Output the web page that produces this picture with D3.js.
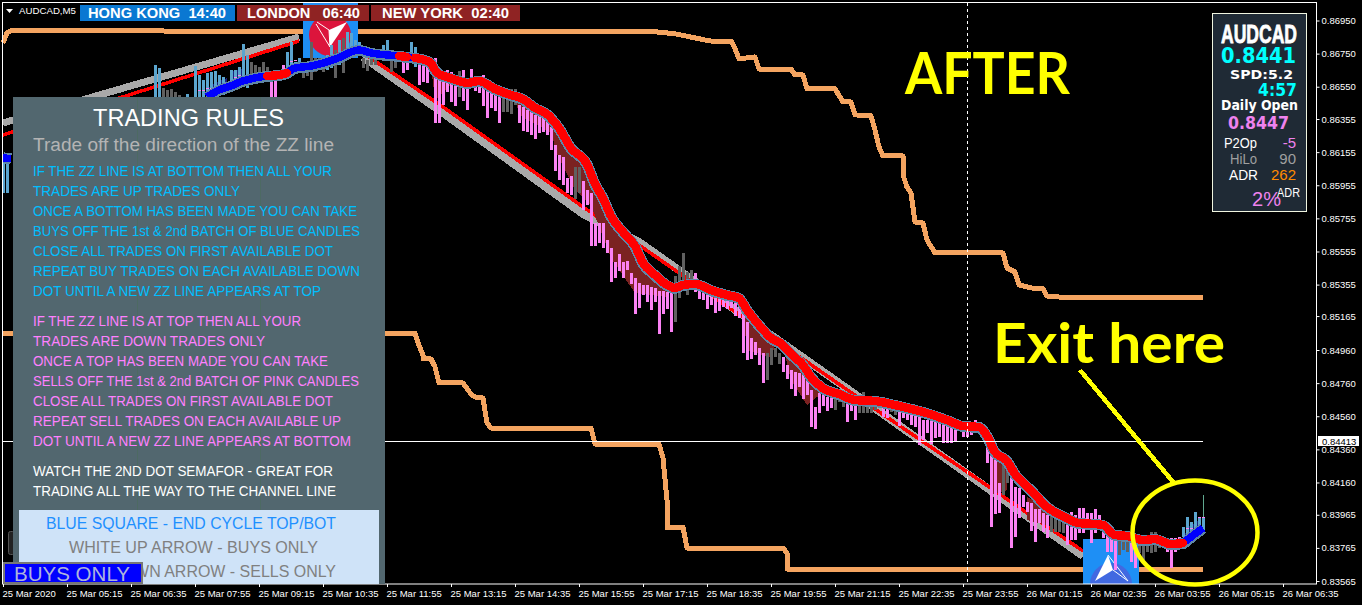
<!DOCTYPE html>
<html><head><meta charset="utf-8">
<script src="https://cdn.jsdelivr.net/npm/d3@7"></script>
<style>html,body{margin:0;background:#000;overflow:hidden}svg{display:block}text{white-space:pre}</style>
</head><body><svg id="c" width="1362" height="605"></svg>
<script>
// Prices are in points (1/100000). Time is the M5 bar number.
const priceTicks=[86950,86750,86550,86355,86155,85955,85755,85555,85355,85165,84960,84760,84560,84360,84160,83965,83765,83565];
const timeLabels=["25 Mar 2020","25 Mar 05:15","25 Mar 06:35","25 Mar 07:55","25 Mar 09:15","25 Mar 10:35","25 Mar 11:55","25 Mar 13:15","25 Mar 14:35","25 Mar 15:55","25 Mar 17:15","25 Mar 18:35","25 Mar 19:55","25 Mar 21:15","25 Mar 22:35","25 Mar 23:55","26 Mar 01:15","26 Mar 02:35","26 Mar 03:55","26 Mar 05:15","26 Mar 06:35"];
const lastPrice=84413, crossBar=241, firstBar=38;
const leftHighs=[86138,86108], leftLows=[85908,85908];
const barKindRuns=[["b",2],["g",5],["b",17],["g",5],["p",4],["b",4],["g",6],["b",2],["g",1],["b",1],["g",1],["b",4],["g",4],["b",3],["g",2],["x",1],["p",2],["b",2],["p",10],["g",1],["p",10],["g",4],["p",14],["g",2],["p",23],["g",5],["p",18],["g",4],["p",13],["g",3],["p",3],["g",6],["p",2],["g",2],["p",26],["g",2],["p",10],["g",4],["p",13],["g",3],["p",2],["g",7],["p",4],["b",6]];
const barHighs=[86681,86663,86542,86530,86536,86518,86500,86488,86506,86488,86675,86621,86591,86633,86639,86645,86621,86609,86579,86651,86651,86669,86808,86742,86700,86681,86669,86700,86669,86633,86639,86639,86681,86760,86820,86700,86724,86681,86700,86820,86724,86724,86712,86742,86802,86772,86832,86844,86881,86875,86832,86820,86724,86712,86724,86712,86772,86802,86832,86712,86712,null,86712,86712,86820,86790,86693,86681,86669,86712,86724,86633,86579,86651,86639,86591,86645,86651,86579,86657,86573,86609,86621,86549,86518,86512,86500,86530,86530,86536,86536,86440,86428,86410,86452,86379,86379,86367,86349,86307,86198,86138,86126,85999,86011,86065,86065,85981,85926,85908,85727,85727,85727,85624,85576,85492,85540,85492,85498,85425,85395,85365,85353,85353,85341,85335,85316,85316,85310,85304,85407,85467,85546,85431,85443,85425,85335,85322,85322,85292,85292,85335,85310,85292,85262,85250,85232,85184,85129,85033,85008,84972,84942,84942,84972,84972,84942,84918,84869,84839,84827,84821,84809,84779,84718,84616,84700,84688,84676,84670,84670,84676,84670,84646,84640,84640,84640,84706,84640,84640,84640,84628,84622,84622,84616,84610,84586,84586,84573,84580,84580,84555,84537,84537,84537,84525,84519,84507,84507,84507,84543,84507,84525,84525,84519,84537,84507,84489,84404,84356,84296,84157,84265,84235,84187,84133,84126,84084,84042,84036,84000,84000,83976,83963,84030,83994,83982,83976,83976,83982,83963,84006,84006,83976,83976,84000,83963,83933,83891,83843,83825,83825,83825,83825,83794,83794,83843,83843,83843,83861,83861,83831,83831,83812,83825,83825,83831,83891,83951,83921,83982,83951,83951];
const barLows=[86440,86440,86440,86440,86440,86440,86440,86440,86440,86440,86440,86440,86488,86488,86488,86500,86518,86500,86518,86542,86542,86542,86561,86542,86603,86591,86621,86603,86621,86440,86440,86603,86639,86639,86639,86639,86651,86603,86615,86591,86639,86651,86639,86651,86663,86603,86681,86633,86760,86772,86754,86772,86663,86645,86681,86681,86712,86712,86712,86639,86663,null,86633,86651,86693,86669,86561,86579,86573,86639,86331,86331,86440,86518,86458,86434,86488,86464,86410,86573,86524,86512,86434,86361,86422,86404,86331,86398,86398,86385,86440,86331,86283,86277,86259,86234,86271,86277,86259,86168,86041,85987,85957,85908,85896,85872,85908,85806,85836,85588,85588,85606,85576,85546,85371,85395,85437,85395,85443,85359,85177,85214,85292,85250,85202,85250,85057,85177,85208,85069,85129,85274,85335,85292,85341,85310,85268,85262,85208,85232,85184,85196,85220,85208,85214,85165,85153,84942,84900,84906,84930,84869,84761,84779,84869,84918,84875,84827,84785,84724,84682,84737,84664,84688,84495,84483,84580,84622,84592,84610,84598,84646,84616,84525,84592,84537,84580,84580,84580,84580,84598,84616,84555,84549,84586,84567,84501,84549,84537,84507,84495,84386,84416,84459,84392,84428,84434,84398,84398,84398,84404,84477,84434,84434,84447,84459,84489,84428,84278,83891,83969,83975,84084,84157,83764,83831,83945,84012,83982,83867,83800,83915,83861,83825,83861,83861,83861,83855,83782,83812,83812,83855,83855,83873,83794,83855,83873,83825,83740,83740,83631,83722,83752,83740,83680,83643,83734,83692,83740,83734,83740,83764,83764,83740,83643,83740,83770,83831,83843,83855,83873,83873,83855];
const lastWick=[84084,83951];
const bodyTicks=[[49,86530],[50,86530],[51,86542],[52,86542],[58,86609],[59,86621],[72,86706],[73,86712],[296,83885],[297,83885],[299,83951],[300,83951]];
const ribbonBars=[0,2,51,54,57,60,63,66,69,71,73,77,81,85,87,89,92,96,99,101,103,106,107,108,109,111,114,116,119,123,127,130,133,136,139,142,146,148,150,152,155,158,160,163,166,168,170,173,177,181,184,186,189,192,195,197,200,202,205,209,213,218,224,230,236,240,244,246,248,251,253,257,261,265,269,273,275,278,281,285,288,292,295,297,300];
const ribbonPrices=[86121,86115,86488,86530,86555,86585,86603,86615,86621,86633,86663,86675,86700,86736,86760,86772,86754,86742,86736,86730,86724,86706,86693,86651,86627,86609,86585,86573,86585,86536,86500,86476,86422,86385,86301,86180,86083,85963,85878,85769,85673,85588,85486,85413,85353,85335,85353,85359,85322,85292,85274,85202,85111,85033,84990,84936,84869,84797,84730,84694,84658,84652,84622,84586,84537,84501,84495,84441,84344,84290,84211,84114,84012,83957,83915,83909,83903,83843,83837,83812,83818,83788,83794,83831,83885];
const upRuns=[[0,66],[71,99],[101,103],[295,300]];
const downRuns=[[66,71],[99,101],[103,295]];
const topZZ=[[0,86814],[1,86875],[2,86888],[163,86882],[168,86870],[176,86830],[177,86826],[182,86826],[183,86780],[184,86718],[188,86730],[189,86657],[197,86657],[198,86621],[200,86621],[201,86537],[208,86537],[210,86458],[212,86458],[213,86380],[217,86374],[218,86289],[219,86186],[220,86132],[225,86132],[225,86017],[226,85944],[227,85908],[228,85733],[230,85727],[231,85624],[233,85546],[250,85546],[251,85455],[253,85431],[254,85353],[257,85335],[260,85329],[261,85286],[264,85280],[300,85280]];
const bottomZZ=[[0,85060],[95,85060],[103,85060],[104,84990],[105,84930],[105,84906],[107,84906],[108,84858],[109,84761],[115,84761],[117,84694],[118,84676],[120,84670],[121,84519],[122,84489],[147,84489],[148,84392],[164,84392],[165,84308],[166,84054],[166,83885],[170,83891],[171,83764],[195,83764],[196,83734],[196,83637],[300,83637]];
const upGray=[[0,86331],[74,86850]], upRed=[[0,86259],[74,86826]];
const downGray=[[90,86730],[110,86392],[145,85782],[159,85612],[214,84676],[270,83716]];
const downRed=[[90,86754],[110,86428],[145,85824],[159,85594],[214,84670],[270,83746]];
const redWedges=[
 [[107,86675],[111,86603],[112,86561],[108,86470]],
 [[128,86500],[136,86379],[138,86319],[138,86259],[129,86379]],
 [[137,86307],[142,86180],[146,86083],[150,85878],[155,85673],[160,85486],[166,85353],[166,85280],[158,85304],[152,85516],[147,85836],[143,85926],[138,86168]],
 [[185,85190],[192,85033],[193,84990],[192,84912],[186,84960]],
 [[195,84978],[202,84779],[205,84706],[201,84628],[197,84779]],
 [[247,84386],[251,84284],[251,84114],[247,84084]],
 [[256,84072],[262,83994],[261,83903],[256,83933]]];
const navyWedges=[
 [[50,86494],[56,86555],[56,86603],[52,86561]],
 [[57,86579],[60,86615],[60,86663],[57,86639]],
 [[295,83812],[299,83873],[299,83933],[296,83885]]];
const sessions=["HONG KONG  14:40","LONDON   06:40","NEW YORK  02:40"];
const rulesBlue=["IF THE ZZ LINE IS AT BOTTOM THEN ALL YOUR","TRADES ARE UP TRADES ONLY","ONCE A BOTTOM HAS BEEN MADE YOU CAN TAKE","BUYS OFF THE 1st & 2nd BATCH OF BLUE CANDLES","CLOSE ALL TRADES ON FIRST AVAILABLE DOT","REPEAT BUY TRADES ON EACH AVAILABLE DOWN","DOT UNTIL A NEW ZZ LINE APPEARS AT TOP"];
const rulesPink=["IF THE ZZ LINE IS AT TOP THEN ALL YOUR","TRADES ARE DOWN TRADES ONLY","ONCE A TOP HAS BEEN MADE YOU CAN TAKE","SELLS OFF THE 1st & 2nd BATCH OF PINK CANDLES","CLOSE ALL TRADES ON FIRST AVAILABLE DOT","REPEAT SELL TRADES ON EACH AVAILABLE UP","DOT UNTIL A NEW ZZ LINE APPEARS AT BOTTOM"];
const rulesWhite=["WATCH THE 2ND DOT SEMAFOR - GREAT FOR","TRADING ALL THE WAY TO THE CHANNEL LINE"];
const legendLines=["BLUE SQUARE - END CYCLE TOP/BOT","WHITE UP ARROW - BUYS ONLY","RED DOWN ARROW - SELLS ONLY"];

const widthsBlue=[299,207,324,327,300,327,288], widthsPink=[268,232,295,326,300,308,318], widthsWhite=[300,303], widthsLegend=[290,249,264];
const barKinds=barKindRuns.flatMap(r=>Array(r[1]).fill(r[0]));
const svg=d3.select("#c");
const x=d3.scaleLinear().domain([0,320]).range([3,1283]);
const y=d3.scaleLinear().domain([86950,83565]).range([20.5,581]);
const SANS='"Liberation Sans",Arial,sans-serif', DJ='"DejaVu Sans",sans-serif';
const BAR={b:"#5ba5cf",g:"#606060",p:"#fb82f4"};
function T(str,px,py,o={}){
  const t=svg.append("text").attr("x",px).attr("y",py).text(str)
   .attr("fill",o.fill||"#fff").attr("font-family",o.font||SANS).attr("font-size",o.size||14)
   .attr("font-weight",o.weight||"normal");
  if(o.len)t.attr("textLength",o.len).attr("lengthAdjust","spacingAndGlyphs");
  if(o.anchor)t.attr("text-anchor",o.anchor);
  if(o.stroke)t.attr("stroke",o.fill||"#fff").attr("stroke-width",o.stroke);
  return t;
}
const line=d3.line().x(d=>x(d[0])).y(d=>y(d[1]));
const smooth=d3.line().x(d=>x(d[0])).y(d=>y(d[1])).curve(d3.curveMonotoneX);
const marks=svg.append("g").attr("shape-rendering","crispEdges");
function path(pts,color,w,gen=line){
  return marks.append("path").attr("d",gen(pts)).attr("fill","none").attr("stroke",color).attr("stroke-width",w)
   .attr("stroke-linejoin","round");
}
// channel
path(upGray,"#a9a9a9",7);path(upRed,"#ff0000",3.5);
path(downGray,"#a9a9a9",8);path(downRed,"#ff0000",3.5);
// ZZ lines
path(topZZ,"#f4a460",5);path(bottomZZ,"#f4a460",5);
// logos
marks.append("rect").attr("x",303).attr("y",3).attr("width",55).attr("height",55).attr("fill","#1e8ff5");
const lg=svg.append("g");
lg.append("circle").attr("cx",330).attr("cy",35).attr("r",21).attr("fill","#dc143c");
lg.append("polygon").attr("points","347,22 329,30 330,47").attr("fill","#fff");
lg.append("polyline").attr("points","317,22 329,30 330,47 316,24").attr("fill","none").attr("stroke","#fff");
const lg2=svg.append("g");
lg2.append("rect").attr("x",1083).attr("y",539).attr("width",56).attr("height",45).attr("fill","#1e8ff5");
lg2.append("path").attr("d","M1090 584 A21 21 0 1 1 1132 584 Z").attr("fill","#4169e1");
lg2.append("polygon").attr("points","1095,581 1108,555 1113,570").attr("fill","#fff");
lg2.append("polyline").attr("points","1108,555 1128,581 1113,570").attr("fill","none").attr("stroke","#fff");
// wedges
const marks2=svg.append("g").attr("shape-rendering","crispEdges");
redWedges.forEach(w=>marks2.append("polygon").attr("points",w.map(d=>x(d[0])+","+y(d[1])).join(" ")).attr("fill","#7b2222"));
navyWedges.forEach(w=>marks2.append("polygon").attr("points",w.map(d=>x(d[0])+","+y(d[1])).join(" ")).attr("fill","#1a237e"));
// bars
leftHighs.forEach((h,i)=>marks2.append("rect").attr("x",x(i)-1).attr("width",3).attr("y",y(h)).attr("height",y(leftLows[i])-y(h)).attr("fill",BAR.b));
marks2.selectAll("rect.bar").data(barHighs.map((h,i)=>({i:i+firstBar,h,l:barLows[i],k:barKinds[i]})).filter(d=>d.h!==null))
 .join("rect").attr("class","bar").attr("x",d=>x(d.i)-1).attr("width",3)
 .attr("y",d=>y(d.h)).attr("height",d=>y(d.l)-y(d.h)).attr("fill",d=>BAR[d.k]||BAR.g);
marks2.append("rect").attr("x",x(300)).attr("width",1).attr("y",y(lastWick[0])).attr("height",y(lastWick[1])-y(lastWick[0])).attr("fill","#5fa88f");
bodyTicks.forEach(d=>marks2.append("rect").attr("x",x(d[0])-1).attr("width",3).attr("y",y(d[1])).attr("height",1).attr("fill",BAR.p));
// ribbon
const ribbon=ribbonBars.map((b,i)=>[b,ribbonPrices[i]]);
const ribbonG=svg.append("g").attr("shape-rendering","crispEdges");
ribbonG.append("path").attr("d",smooth(ribbon.slice(2))).attr("fill","none").attr("stroke","#5f86a6").attr("stroke-width",11).attr("transform","translate(0,0.5)");
ribbonG.append("path").attr("d",smooth(ribbon.slice(0,2))).attr("fill","none").attr("stroke","#5f86a6").attr("stroke-width",11);
upRuns.forEach(r=>{const p=ribbon.filter(d=>d[0]>=r[0]&&d[0]<=r[1]&&!(r[0]===0&&d[0]<=2));
 ribbonG.append("path").attr("d",smooth(p)).attr("fill","none").attr("stroke","#0000ff").attr("stroke-width",7.5);});
ribbonG.append("path").attr("d",smooth(ribbon.slice(0,2))).attr("fill","none").attr("stroke","#0000ff").attr("stroke-width",7.5);
downRuns.forEach(r=>{const p=ribbon.filter(d=>d[0]>=r[0]&&d[0]<=r[1]);
 ribbonG.append("path").attr("d",smooth(p)).attr("fill","none").attr("stroke","#ff0000").attr("stroke-width",8.5).attr("stroke-linecap","round");});
// last price line, crosshair
svg.append("line").attr("x1",3).attr("x2",x(300)).attr("y1",Math.round(y(lastPrice))+.5).attr("y2",Math.round(y(lastPrice))+.5).attr("stroke","#fff");
svg.append("line").attr("x1",x(crossBar)+.5).attr("x2",x(crossBar)+.5).attr("y1",3).attr("y2",584).attr("stroke","#fff").attr("stroke-dasharray","3,3");
// frame + axes
svg.append("rect").attr("x",2.5).attr("y",2.5).attr("width",1314).attr("height",581.5).attr("fill","none").attr("stroke","#fff");
const ay=svg.append("g").attr("transform","translate(1316.5,0)").call(d3.axisRight(y).tickValues(priceTicks).tickSize(3).tickPadding(2).tickFormat(d=>(d/1e5).toFixed(5)));
const ax=svg.append("g").attr("transform","translate(0,584)").call(d3.axisBottom(x).tickValues(timeLabels.map((_,k)=>k*16)).tickSize(3).tickFormat((d,k)=>timeLabels[k]));
[ay,ax].forEach(a=>{a.select(".domain").remove();a.selectAll("line").attr("stroke","#fff");a.selectAll("text").attr("fill","#fff").attr("font-family",SANS).attr("font-size",9.5);});
ax.selectAll("text").attr("text-anchor","start").attr("x",-1).attr("y",6);
// price tag
svg.append("rect").attr("x",1318).attr("y",436).attr("width",41).attr("height",10).attr("fill","#fff");
T((lastPrice/1e5).toFixed(5),1322,444.5,{fill:"#000",size:9.5});
// left stub
svg.append("rect").attr("x",8.5).attr("y",531.5).attr("width",6).attr("height",23).attr("rx",2).attr("fill","#222").attr("stroke","#555");
// rules panel
svg.append("rect").attr("x",13).attr("y",97).attr("width",372).attr("height",487).attr("fill","#52676f");
[137,260].forEach(v=>svg.append("line").attr("x1",v+.5).attr("x2",v+.5).attr("y1",97).attr("y2",510).attr("stroke","#4d6a63"));
svg.append("rect").attr("x",19).attr("y",510).attr("width",360).attr("height",74).attr("fill","#cfe3f8");
T("TRADING RULES",93,126,{size:24,len:191});
T("Trade off the direction of the ZZ line",33,151,{size:18,fill:"#b4b4b4",len:301});
rulesBlue.forEach((s,i)=>T(s,33,176+i*20,{fill:"#00bfff",size:14,len:widthsBlue[i]}));
rulesPink.forEach((s,i)=>T(s,33,326+i*20,{fill:"#ff80ff",size:14,len:widthsPink[i]}));
rulesWhite.forEach((s,i)=>T(s,33,476+i*20,{fill:"#fff",size:14,len:widthsWhite[i]}));
legendLines.forEach((s,i)=>T(s,[46,69,72][i],529+i*24,{fill:i?"#808080":"#1e90ff",size:16,len:widthsLegend[i]}));
svg.append("rect").attr("x",4).attr("y",563).attr("width",138).attr("height",20).attr("fill","#0000ff").attr("stroke","#777").attr("stroke-width",2);
T("BUYS ONLY",14,581,{fill:"#aeb4dc",size:20,len:116});
// header
svg.append("polygon").attr("points","6,9 13,9 9.5,13").attr("fill","#fff");
T("AUDCAD,M5",19,14,{size:9.5,len:57});
[[80,155,"#0a78d2",88,138],[237,132,"#8f2323",247,113],[371,149,"#8f2323",382,127]].forEach((b,i)=>{
 svg.append("rect").attr("x",b[0]).attr("y",5).attr("width",b[1]).attr("height",16).attr("fill",b[2]);
 T(sessions[i],b[3],18,{size:14,weight:"bold",len:b[4]});
});
// info box
svg.append("rect").attr("x",1212.5).attr("y",13.5).attr("width",94).attr("height",198).attr("fill","#1f2a35").attr("stroke","#f0f5e0");
T("AUDCAD",1221,43,{size:26,weight:"bold",len:76,stroke:.8});
T("0.8441",1221,63,{font:DJ,size:22,weight:"bold",fill:"#00ffff",len:75});
T("SPD:5.2",1230,79,{font:DJ,size:13,weight:"bold",len:63});
T("4:57",1258,96,{font:DJ,size:17,weight:"bold",fill:"#00ffff",len:39});
T("Daily Open",1221,110,{font:DJ,size:13.5,weight:"bold",len:77});
T("0.8447",1228,129,{font:DJ,size:18,weight:"bold",fill:"#ee82ee",len:61});
T("P2Op",1224,148,{size:14,len:33});
T("-5",1296,148,{size:15,fill:"#ee82ee",anchor:"end"});
T("HiLo",1230,164,{size:14,fill:"#a0a0a0",len:27});
T("90",1296,164,{size:15,fill:"#a0a0a0",anchor:"end"});
T("ADR",1229,180,{size:14,len:29});
T("262",1296,180,{size:15,fill:"#ff8c00",anchor:"end"});
T("2%",1252,206,{size:20,fill:"#ee82ee",len:29});
T("ADR",1277,197,{size:12,len:23});
// annotations
T("AFTER",905,94,{font:'Lato,sans-serif',size:57,weight:"bold",fill:"#ffff00",len:165});
T("Exit here",993,363,{font:'Lato,sans-serif',size:56,weight:"bold",fill:"#ffff00",len:232});
svg.append("line").attr("x1",1080).attr("y1",370).attr("x2",1173).attr("y2",482).attr("stroke","#ffff00").attr("stroke-width",4.5).attr("shape-rendering","crispEdges");
svg.append("ellipse").attr("cx",1195).attr("cy",532.5).attr("rx",62.5).attr("ry",52).attr("fill","none").attr("stroke","#ffff00").attr("stroke-width",4.5);
</script></body></html>
